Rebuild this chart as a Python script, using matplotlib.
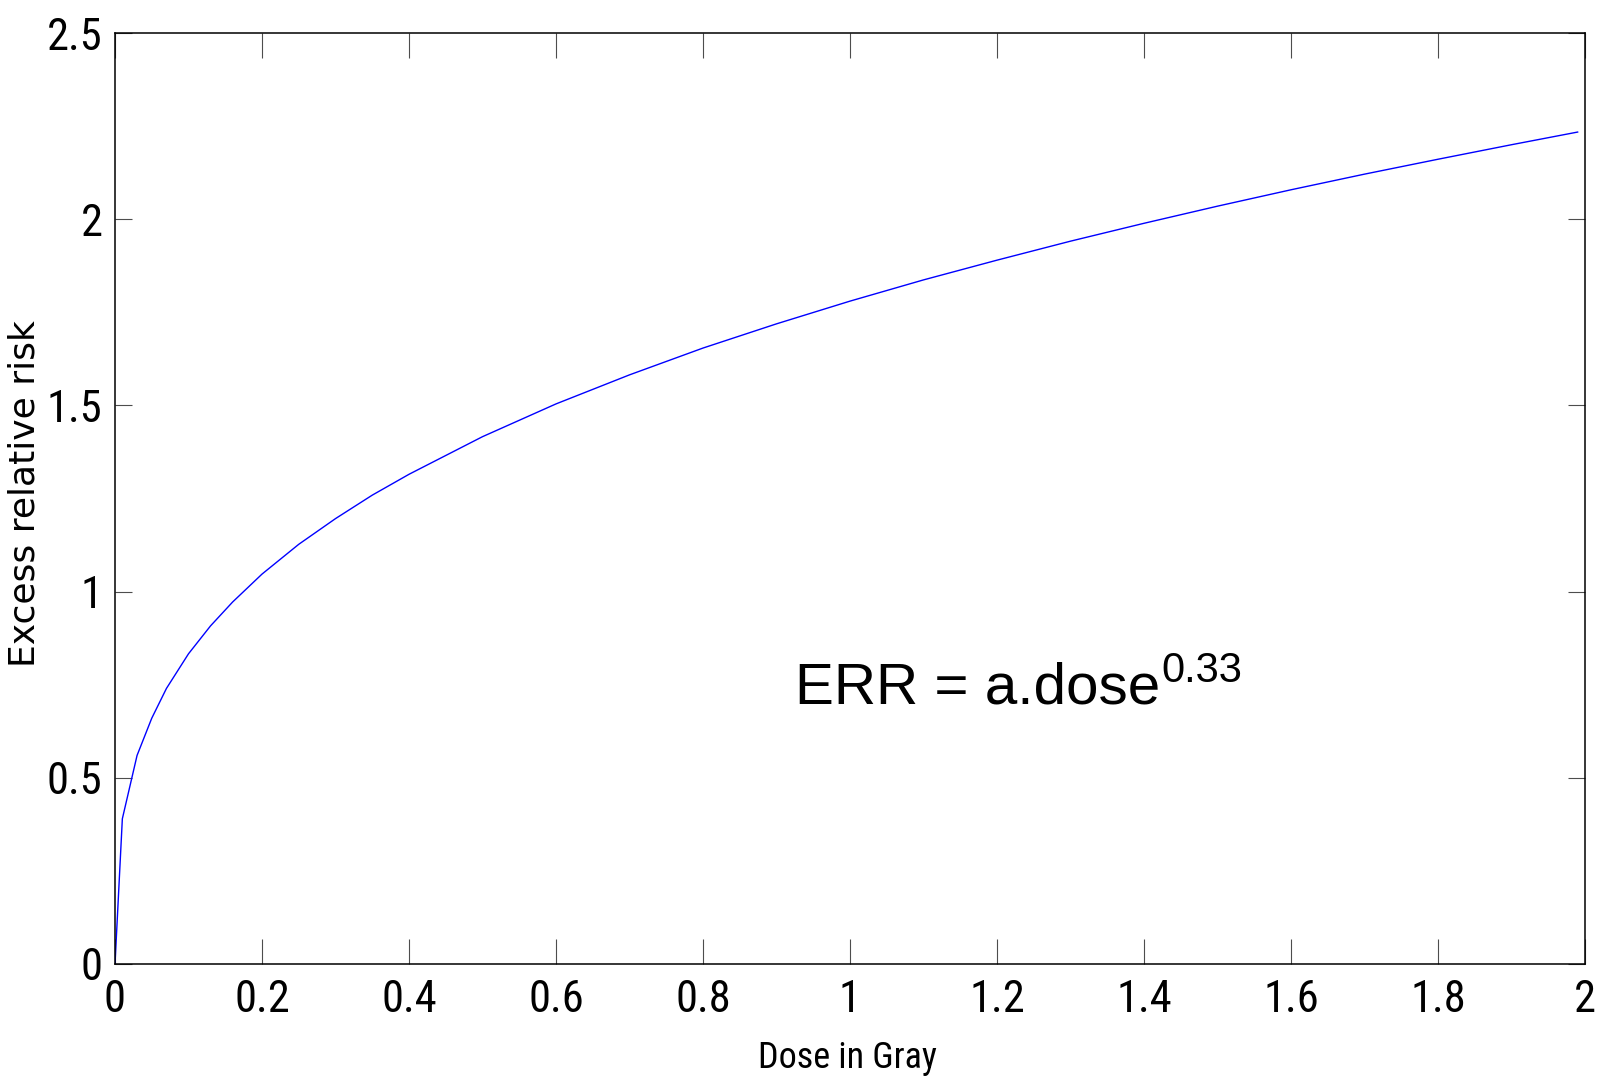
import matplotlib
matplotlib.use("Agg")
import matplotlib.pyplot as plt
from matplotlib import font_manager as fm

# Values
dose = [0.0, 0.01, 0.03, 0.05, 0.07, 0.10, 0.13, 0.16, 0.20, 0.25, 0.30, 0.35,
        0.40, 0.50, 0.60, 0.70, 0.80, 0.90, 1.00, 1.10, 1.20, 1.30, 1.40, 1.50,
        1.60, 1.70, 1.80, 1.90, 1.99]
err = [0.0, 0.39, 0.56, 0.66, 0.74, 0.833, 0.908, 0.972, 1.047, 1.127, 1.196, 1.259,
       1.315, 1.416, 1.504, 1.582, 1.654, 1.719, 1.78, 1.837, 1.89, 1.941, 1.989, 2.035,
       2.079, 2.121, 2.161, 2.20, 2.234]

xticks = [0, 0.2, 0.4, 0.6, 0.8, 1, 1.2, 1.4, 1.6, 1.8, 2]
xticklabels = ["0", "0.2", "0.4", "0.6", "0.8", "1", "1.2", "1.4", "1.6", "1.8", "2"]
yticks = [0, 0.5, 1, 1.5, 2, 2.5]
yticklabels = ["0", "0.5", "1", "1.5", "2", "2.5"]

installed = {f.name for f in fm.fontManager.ttflist}
narrow_choice = None
for cand in ["Liberation Sans Narrow", "Arial Narrow", "Roboto Condensed",
             "Open Sans Condensed", "Noto Sans Condensed"]:
    if cand in installed:
        narrow_choice = cand
        break
narrow = ([narrow_choice] if narrow_choice else []) + ["Liberation Sans", "DejaVu Sans"]
tick_size = 32 if narrow_choice else 30
arial = ["Liberation Sans", "DejaVu Sans"]

fig = plt.figure(figsize=(16, 10.78), dpi=100)
ax = fig.add_axes([115/1600, 1-964/1078, 1470/1600, 931/1078])

ax.plot(dose, err, color="#0000ff", lw=1.0)

ax.set_xlim(0, 2)
ax.set_ylim(0, 2.5)
ax.set_xticks(xticks)
ax.set_xticklabels(xticklabels, family=narrow, fontsize=tick_size)
ax.set_yticks(yticks)
ax.set_yticklabels(yticklabels, family=narrow, fontsize=tick_size)

ax.tick_params(axis="x", direction="in", length=18, width=0.8, color="0.3",
               top=True, bottom=True, pad=11)
ax.tick_params(axis="y", direction="in", length=12, width=0.8, color="0.3",
               left=True, right=True, pad=9)
for s in ax.spines.values():
    s.set_linewidth(1.1)
    s.set_color("black")

ax.set_xlabel("Dose in Gray", family=narrow, fontsize=26)
ax.xaxis.set_label_coords(0.498, -0.082)
ax.set_ylabel("Excess relative risk", family=["DejaVu Sans"], fontsize=26)
ax.yaxis.label.set_va("center")
ax.yaxis.set_label_coords(-0.0615, 0.505)

t = ax.text(0.925, 0.70, "ERR = a.dose", family=arial, fontsize=42,
            va="baseline", ha="left")
ax.annotate("0.33", xy=(1, 0), xycoords=t, xytext=(1, 24),
            textcoords="offset points", family=arial, fontsize=30,
            va="baseline", ha="left")

fig.savefig("out.png", dpi=100)
